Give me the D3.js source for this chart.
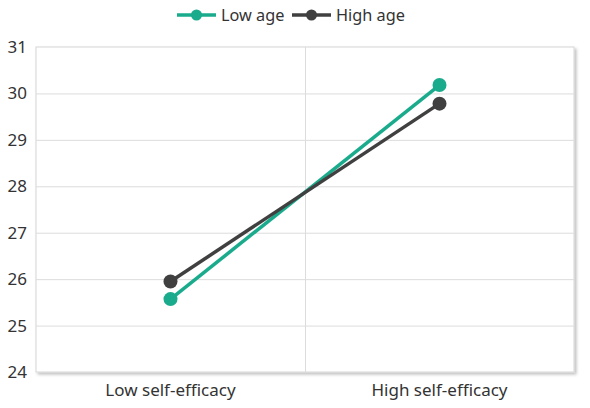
<!DOCTYPE html>
<html><head><meta charset="utf-8">
<script src="https://cdn.jsdelivr.net/npm/d3@7"></script>
<style>body{margin:0;background:#fff}svg{display:block}</style>
</head><body><svg id="c" width="590" height="408"></svg>
<script>
const categories = ["Low self-efficacy", "High self-efficacy"];
const seriesNames = ["Low age", "High age"];
const lowAge = [25.57, 30.18];
const highAge = [25.95, 29.78];
const yTicks = [24, 25, 26, 27, 28, 29, 30, 31];
const colors = ["#1aab8d", "#404040"];
const FONT = "'Noto Sans', 'Open Sans', sans-serif";

const svg = d3.select("#c").attr("font-family", FONT);
const m = {l: 36, r: 16, t: 47, b: 36};
const W = 590, H = 408;
const x = d3.scaleBand().domain(categories).range([m.l, W - m.r]);
const y = d3.scaleLinear().domain([24, 31]).range([H - m.b, m.t]);

const defs = svg.append("defs");
const f = defs.append("filter").attr("id", "sh").attr("x", "-5%").attr("y", "-5%").attr("width", "110%").attr("height", "110%");
f.append("feDropShadow").attr("dx", 2).attr("dy", 2).attr("stdDeviation", 1.5).attr("flood-color", "#000").attr("flood-opacity", 0.25);

svg.append("rect").attr("x", m.l).attr("y", m.t).attr("width", W - m.r - m.l).attr("height", H - m.b - m.t)
  .attr("fill", "#fff").attr("stroke", "#d6d6d6").attr("filter", "url(#sh)");

// grid
svg.append("g").selectAll("line").data(yTicks.slice(1, -1)).join("line")
  .attr("x1", m.l).attr("x2", W - m.r).attr("y1", d => y(d) + 0.5).attr("y2", d => y(d) + 0.5)
  .attr("stroke", "#dcdcdc");
svg.append("line").attr("x1", x(categories[1]) + 0.5).attr("x2", x(categories[1]) + 0.5)
  .attr("y1", m.t).attr("y2", H - m.b).attr("stroke", "#dcdcdc");

// y axis
const ya = svg.append("g").attr("transform", `translate(${m.l},0)`)
  .call(d3.axisLeft(y).tickValues(yTicks).tickFormat(d3.format("d")).tickSize(0).tickPadding(9))
  .attr("font-family", FONT).attr("font-size", 17);
ya.select(".domain").remove();
ya.selectAll("text").attr("fill", "#333");

// x axis
const xa = svg.append("g").attr("transform", `translate(0,${H - m.b})`)
  .call(d3.axisBottom(x).tickSize(0).tickPadding(12))
  .attr("font-family", FONT).attr("font-size", 17);
xa.select(".domain").remove();
xa.selectAll("text").attr("fill", "#333");

const data = [lowAge, highAge];
const line = d3.line().x((d, i) => x(categories[i]) + x.bandwidth() / 2).y(d => y(d));
data.forEach((s, k) => {
  const g = svg.append("g");
  g.append("path").attr("d", line(s)).attr("fill", "none").attr("stroke", colors[k]).attr("stroke-width", 3.5);
  g.selectAll("circle").data(s).join("circle")
    .attr("cx", (d, i) => x(categories[i]) + x.bandwidth() / 2).attr("cy", d => y(d))
    .attr("r", 7).attr("fill", colors[k]);
});

// legend
const leg = svg.append("g");
const legX = [177, 292];
seriesNames.forEach((n, k) => {
  const g = leg.append("g").attr("transform", `translate(${legX[k]},15)`);
  g.append("line").attr("x1", 0).attr("x2", 39).attr("stroke", colors[k]).attr("stroke-width", 3.5);
  g.append("circle").attr("cx", 19.5).attr("r", 5.5).attr("fill", colors[k]);
  g.append("text").attr("x", 44).attr("dy", "0.35em").attr("font-size", 16.3).attr("fill", "#333").text(n);
});
</script></body></html>
